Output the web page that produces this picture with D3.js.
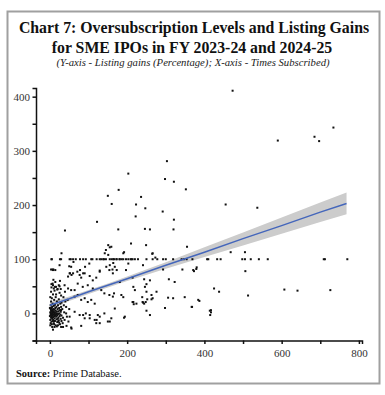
<!DOCTYPE html>
<meta charset="utf-8">
<script src="https://d3js.org/d3.v7.min.js"></script>
<style>
  body { margin: 0; background: #fff; }
  text { font-family: "Liberation Serif", "DejaVu Serif", serif; }
</style>
<body>
<div id="chart"></div>
<script>
    // times subscribed (x) and listing gain % (y)
    const subscribed = [
        473, 590, 685, 697, 734, 455, 537,
        303, 203, 298, 321, 178, 352, 150, 236, 160, 223, 247, 292, 222, 321, 122, 177, 246, 259, 320, 39,
        468, 505, 210, 249, 355, 159, 190, 265, 273, 30, 151, 145, 142, 151, 192, 266, 155,
        506, 373, 379, 380, 164, 155, 168, 102, 203, 129, 173, 241, 343, 308, 323, 371, 293, 250, 146, 154,
        163, 162, 197, 214, 181, 244, 259, 246, 111, 120, 129, 103,
        425, 438, 607, 641, 726, 513, 387, 368, 417, 417, 415, 216, 220, 250, 263, 276, 241, 252, 266, 216,
        224, 185, 190, 168, 194, 259, 298, 306, 319, 349, 367, 384, 155, 129, 121, 103, 166, 214, 217, 240,
        239, 244, 248, 263, 414, 192, 250, 133, 141, 154, 163, 107, 116, 124, 103, 116, 129, 141, 150, 159,
        120, 111, 98,
        93, 86, 56, 43, 34, 91, 78, 86, 52, 56, 47, 55, 51, 60, 71, 77, 81, 90, 38, 47, 55, 64, 72, 85,
        64, 72, 81, 90, 98, 42, 51, 64, 77, 90, 55, 81, 50, 61,
        8, 14, 25, 8, 16, 25, 29, 21, 8, 9, 3, 7, 4, 13,
        0, 1, 1, 2, 2, 2, 3, 3, 3, 4, 4, 4, 5, 5, 5, 5, 6, 6, 6, 7, 7, 7, 8, 8, 8, 9, 9, 9, 10, 10, 10,
        11, 11, 11, 12, 12, 12, 13, 13, 13, 14, 14, 15, 15, 15, 16, 16, 17, 17, 18, 18, 19, 19, 20, 20,
        21, 21, 22, 22, 23, 23, 24, 24, 25, 25, 26, 26, 27, 27, 28, 28, 29, 29, 30, 30, 1, 2, 3, 4, 6,
        7, 9, 10, 12, 14, 16, 18, 19, 21, 23, 26, 28, 30, 0, 1, 2, 3, 4, 6, 8, 11, 13, 17, 20, 24, 29,
        32, 34, 36, 38, 40, 35, 33, 37, 39, 42, 44, 46, 48, 50
    ];
    const gains = [
        411, 319, 326, 318, 343, 201, 195,
        281, 258, 248, 243, 228, 229, 217, 215, 202, 201, 194, 188, 179, 173, 169, 155, 156, 155, 155, 153,
        113, 113, 129, 126, 123, 123, 111, 110, 103, 111, 126, 117, 111, 108, 113, 111, 122,
        78, 78, 82, 85, 93, 89, 86, 92, 92, 79, 80, 89, 81, 63, 58, 80, 81, 54, 86, 80,
        74, 81, 80, 66, 58, 63, 61, 49, 61, 66, 77, 69,
        46, 40, 44, 42, 43, 33, 23, 12, 6, 2, -3, 49, 43, 40, 34, 40, 20, 26, 28, 21,
        18, 34, 30, 9, -6, -3, 10, 29, 28, 30, 12, 25, -15, -18, -12, -9, 37, 21, 17, 21,
        30, 18, 21, 26, 5, -8, 5, 43, 37, 34, 31, 25, 18, -3, -3, -12, -6, 0, -15, -9,
        -18, 46, 52,
        0, -3, -28, -23, -25, 86, 80, 74, 74, 71, 68, 86, 74, 74, 77, 71, 66, 74, 52, 46, 43, 43, 55, 49,
        31, 34, 25, 28, 21, 0, -6, 3, -3, -9, -26, -23, 87, 95,
        80, 80, 89, 52, 49, 50, 6, -22, -30, 81, 81, 81, 54, 49,
        -5, 2, -12, 8, -3, 15, -8, 5, 22, -1, -15, 10, 3, -6, 28, -20, 0, 12, -10, 5, -3, 18, -7, 2, 35, -12, 8, -2, 4, -18, 14,
        -5, 0, 25, 7, -9, 42, 2, -14, 16, -3, 10, -22, 5, 30, -6, 0, 12, -11, 3, 22, -4, -16, 8, 45,
        -1, 15, -8, 4, 26, -13, 0, 10, -5, 38, 6, -20, 18, -2, 3, -10, 12, 33, -4, 20, 30, -18, 40, 48, -25,
        55, 62, 46, -25, 58, 35, -24, 44, -15, 52, 60, 45, -14, 10, -22, 0, -3, 4, 7, -14, -20, -3, -2, -10, -17, -25,
        8, -8, 15, -12, 22, 30, -18, 2, 40, 12, -6, 25, -15, 8
    ];
    // IPOs listed at exactly 100% gain
    const hundredRow = [4, 5, 26, 29, 51, 54, 60, 67, 78, 86, 93, 107, 110, 121, 129, 133, 138, 140, 145, 155,
        160, 164, 166, 172, 173, 180, 181, 186, 190, 197, 203, 209, 211, 214, 220, 228, 250, 266, 278, 293,
        300, 319, 341, 347, 354, 369, 407, 410, 433, 442, 498, 505, 520, 541, 564, 709, 712, 770];

    // fitted line and confidence band
    const fitX = [0, 50, 100, 150, 200, 300, 400, 500, 600, 700, 768];
    const fitY = [15, 27, 40, 52, 64, 89, 113, 138, 162, 187, 203];
    const bandLo = [9.5, 23, 36, 48, 60, 82.5, 104, 125.5, 147, 168.5, 183];
    const bandHi = [20.5, 31, 43, 55, 68, 94.5, 122, 149.5, 177, 204.5, 223];

    const xTicks = [0, 100, 200, 300, 400, 500, 600, 700, 800];
    const xLabels = [0, 200, 400, 600, 800];
    const yTicks = [-50, 0, 50, 100, 150, 200, 250, 300, 350, 400];
    const yLabels = [0, 100, 200, 300, 400];

    let points = subscribed.map((d, i) => ({x: d, y: gains[i]}));
    hundredRow.forEach(d => points.push({x: d, y: 100}));

    const W = 385, H = 395;
    const svg = d3.select("#chart").append("svg")
        .attr("width", W)
        .attr("height", H);

    // frame
    svg.append("rect")
        .attr("x", 7.5).attr("y", 11.5)
        .attr("width", 372).attr("height", 372)
        .attr("fill", "none")
        .attr("stroke", "#a0a0a0")
        .attr("stroke-width", 2);

    svg.append("text")
        .attr("x", 194).attr("y", 33)
        .attr("text-anchor", "middle")
        .style("font-size", "15.8px").style("font-weight", "bold").style("fill", "#111")
        .text("Chart 7: Oversubscription Levels and Listing Gains");
    svg.append("text")
        .attr("x", 192).attr("y", 53)
        .attr("text-anchor", "middle")
        .style("font-size", "15.8px").style("font-weight", "bold").style("fill", "#111")
        .text("for SME IPOs in FY 2023-24 and 2024-25");
    svg.append("text")
        .attr("x", 193).attr("y", 66)
        .attr("text-anchor", "middle")
        .style("font-size", "10.7px").style("font-style", "italic").style("fill", "#222")
        .text("(Y-axis - Listing gains (Percentage); X-axis - Times Subscribed)");

    const x = d3.scaleLinear().domain([-36, 808]).range([36, 362]);
    const y = d3.scaleLinear().domain([-50, 416]).range([340.5, 88]);

    // band + line
    const band = d3.area()
        .x((d, i) => x(fitX[i]))
        .y0((d, i) => y(bandLo[i]))
        .y1((d, i) => y(bandHi[i]));
    svg.append("path")
        .datum(fitX)
        .attr("d", band)
        .attr("fill", "#cccccc");

    // points
    svg.append("g").selectAll("rect")
        .data(points)
        .enter()
        .append("rect")
        .attr("x", d => x(d.x) - 1)
        .attr("y", d => y(d.y) - 1)
        .attr("width", 2)
        .attr("height", 2)
        .attr("fill", "#111");

    const line = d3.line()
        .x((d, i) => x(fitX[i]))
        .y((d, i) => y(fitY[i]));
    svg.append("path")
        .datum(fitX)
        .attr("d", line)
        .attr("fill", "none")
        .attr("stroke", "#4466bb")
        .attr("stroke-width", 1.5);

    // axes
    const gx = svg.append("g")
        .attr("transform", "translate(0," + y(-50) + ")")
        .call(d3.axisBottom(x).tickValues(xTicks).tickSize(3.5)
            .tickFormat(d => xLabels.includes(d) ? d : ""));
    const gy = svg.append("g")
        .attr("transform", "translate(" + x(-36) + ",0)")
        .call(d3.axisLeft(y).tickValues(yTicks).tickSize(3.5)
            .tickFormat(d => yLabels.includes(d) ? d : ""));

    [gx, gy].forEach(g => {
        g.select(".domain").attr("stroke", "#111").attr("stroke-width", 1.5);
        g.selectAll(".tick line").attr("stroke", "#111").attr("stroke-width", 1.5);
        g.selectAll(".tick text")
            .style("font-family", "'Liberation Serif', serif")
            .style("font-size", "11px")
            .attr("fill", "#333");
    });
    gx.selectAll(".tick text").attr("dy", "0.9em");
    gy.selectAll(".tick text").attr("x", -6);

    const src = svg.append("text")
        .attr("x", 16).attr("y", 377)
        .style("font-size", "10.5px").style("fill", "#111");
    src.append("tspan").style("font-weight", "bold").text("Source: ");
    src.append("tspan").text("Prime Database.");
</script>
</body>
